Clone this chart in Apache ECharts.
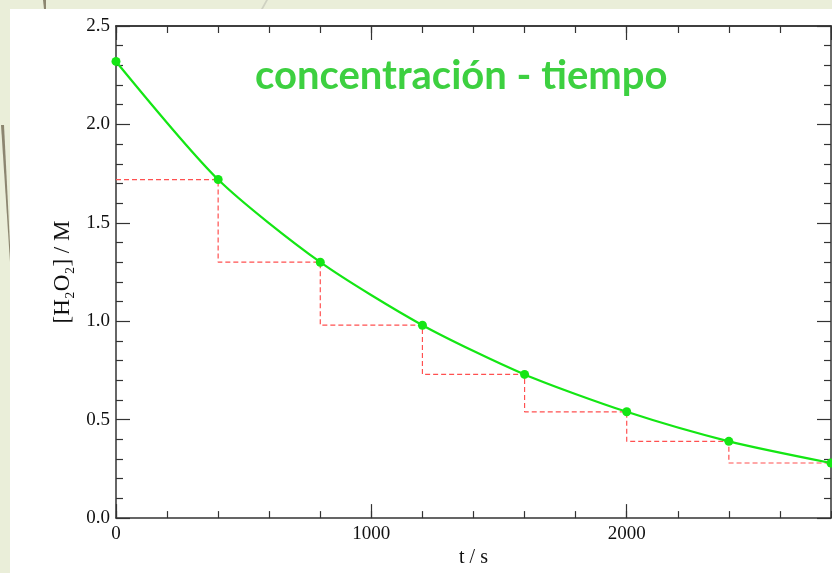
<!DOCTYPE html>
<html>
<head>
<meta charset="utf-8">
<title>concentración - tiempo</title>
<style>
    html, body { margin: 0; padding: 0; background: #eaeed9; }
    #chart { width: 832px; height: 573px; }
</style>
<script src="https://cdn.jsdelivr.net/npm/echarts@6/dist/echarts.min.js"></script>
</head>
<body>
<div id="chart"></div>
<script>
// datos
var times = [0, 400, 800, 1200, 1600, 2000, 2400, 2800];
var conc = [2.32, 1.72, 1.30, 0.98, 0.73, 0.54, 0.39, 0.28];
var xLabels = ['0', '1000', '2000'];
var yLabels = ['0.0', '0.5', '1.0', '1.5', '2.0', '2.5'];
var titleText = 'concentración - tiempo';
var xName = 't / s';
var yName = '[H\u2082O\u2082] / M';

var serif = '"Liberation Serif", "DejaVu Serif", serif';
var axisColor = '#333';

// curva y escalones
var curveData = times.map(function (t, i) { return [t, conc[i]]; });
var stepData = [];
for (var i = 0; i < times.length - 1; i++) {
    stepData.push([times[i], conc[i + 1]]);
    stepData.push([times[i + 1], conc[i + 1]]);
}

var chart = echarts.init(document.getElementById('chart'));

// eje x: uno con marcas largas (1000) y otro con marcas cortas (200), abajo y arriba
function xAxisPart(pos, step, len, withLabels) {
    return {
        type: 'value',
        position: pos,
        min: 0,
        max: 2800,
        interval: step,
        name: withLabels ? xName : '',
        nameLocation: 'middle',
        nameGap: 28,
        nameTextStyle: { fontFamily: serif, fontSize: 20, color: '#111' },
        axisLine: { show: withLabels || pos === 'top', onZero: false, lineStyle: { color: axisColor, width: 1.5 } },
        axisTick: { show: true, inside: true, length: len, lineStyle: { color: axisColor, width: 1.2 } },
        axisLabel: {
            show: withLabels,
            margin: 6,
            showMaxLabel: false,
            fontFamily: serif,
            fontSize: 19,
            color: '#111',
            formatter: function (v) {
                var s = String(v);
                return xLabels.indexOf(s) >= 0 ? s : '';
            }
        },
        splitLine: { show: false }
    };
}

function yAxisPart(pos, withLabels) {
    return {
        type: 'value',
        position: pos,
        min: 0,
        max: 2.5,
        interval: 0.5,
        name: withLabels ? yName : '',
        nameLocation: 'middle',
        nameGap: 42,
        nameTextStyle: { fontFamily: serif, fontSize: 23, color: '#111' },
        axisLine: { show: true, onZero: false, lineStyle: { color: axisColor, width: 1.5 } },
        axisTick: { show: true, inside: true, length: 14, lineStyle: { color: axisColor, width: 1.2 } },
        minorTick: { show: true, splitNumber: 5, length: 7, lineStyle: { color: axisColor, width: 1.2 } },
        axisLabel: {
            show: withLabels,
            margin: 6,
            fontFamily: serif,
            fontSize: 19,
            color: '#111',
            formatter: function (v) {
                return yLabels[Math.round(v / 0.5)];
            }
        },
        splitLine: { show: false }
    };
}

var option = {
    backgroundColor: '#eaeed9',
    animation: false,
    title: {
        text: titleText,
        left: 255,
        top: 56,
        padding: 0,
        textStyle: { fontFamily: 'Lato', fontWeight: 'bold', fontSize: 40, color: '#3dd040' }
    },
    graphic: [
        // panel blanco y adornos de la diapositiva
        { type: 'rect', z: -10, shape: { x: 10, y: 9, width: 822, height: 564 }, style: { fill: '#fff' } },
        { type: 'polygon', z: -9, shape: { points: [[1, 125], [4, 125], [10, 245], [10, 262]] }, style: { fill: '#8c8670' } },
        { type: 'polygon', z: -9, shape: { points: [[43, 0], [46, 0], [46, 9], [44, 9]] }, style: { fill: '#8c8670' } },
        { type: 'polygon', z: -9, shape: { points: [[266, 0], [268, 0], [263, 9], [261, 9]] }, style: { fill: '#cfd2c2' } }
    ],
    grid: { left: 116, right: 1, top: 26, bottom: 46, containLabel: false },
    xAxis: [
        xAxisPart('bottom', 1000, 14, true),
        xAxisPart('bottom', 200, 7, false),
        xAxisPart('top', 1000, 14, false),
        xAxisPart('top', 200, 7, false)
    ],
    yAxis: [
        yAxisPart('left', true),
        yAxisPart('right', false)
    ],
    series: [{
        name: 'escalones',
        type: 'line',
        xAxisIndex: 0,
        yAxisIndex: 0,
        symbol: 'none',
        lineStyle: { color: '#ff5050', width: 1.2, type: [5, 3] },
        data: stepData,
        z: 2
    }, {
        name: 'concentración',
        type: 'line',
        xAxisIndex: 0,
        yAxisIndex: 0,
        smooth: 0.25,
        symbol: 'circle',
        symbolSize: 9,
        clip: false,
        itemStyle: { color: '#14e614' },
        lineStyle: { color: '#14e614', width: 2.2 },
        data: curveData,
        z: 3
    }]
};
chart.setOption(option);
</script>
</body>
</html>
